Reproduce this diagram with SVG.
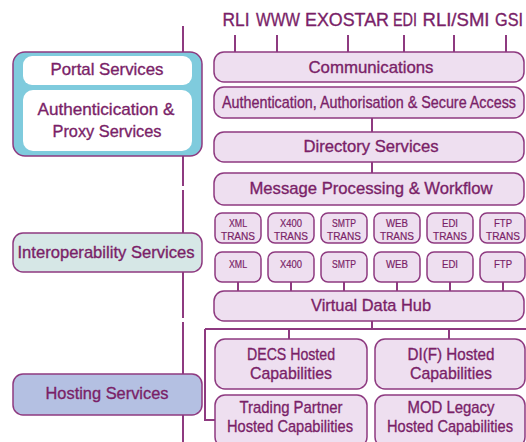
<svg xmlns="http://www.w3.org/2000/svg" width="526" height="442" viewBox="0 0 526 442">
<style>
text{font-family:"Liberation Sans",Arial,sans-serif;fill:#7a1f68;stroke:#7a1f68;stroke-width:0.35;text-anchor:middle}
.b{fill:#eedff0;stroke:#8e3a80;stroke-width:1.5}
.l{stroke:#8e3a80;stroke-width:2;fill:none}
.t{font-size:18px}
.m{font-size:17px}
.s{font-size:10.5px;stroke-width:0.2}
</style>
<rect width="526" height="442" fill="#ffffff"/>
<g id="connectors">
<path class="l" d="M183 26V186M183 190V318M183 322V442"/>
<path class="l" d="M235 35V52M277 35V52M348 35V52M404 35V52M454 35V52M506 35V52"/>
<path class="l" d="M372 118V132M372 162V173"/>
<path class="l" d="M238 282V291M291 282V291M344 282V291M397 282V291M450 282V291M503 282V291"/>
<path class="l" d="M372 321V329M205 329H526M289 329V339M449 329V339M205 329V420H215"/>
</g>
<g id="labels">
<text class="t" x="236" y="26" textLength="27" lengthAdjust="spacingAndGlyphs">RLI</text>
<text class="t" x="278" y="26" textLength="44" lengthAdjust="spacingAndGlyphs">WWW</text>
<text class="t" x="347" y="26" textLength="84" lengthAdjust="spacingAndGlyphs">EXOSTAR</text>
<text class="t" x="405" y="26" textLength="24" lengthAdjust="spacingAndGlyphs">EDI</text>
<text class="t" x="456" y="26" textLength="67" lengthAdjust="spacingAndGlyphs">RLI/SMI</text>
<text class="t" x="509" y="26" textLength="28" lengthAdjust="spacingAndGlyphs">GSI</text>
</g>
<g id="portal">
<rect x="13" y="52" width="189" height="104" rx="12" fill="#7fcbdd" stroke="#8e3a80" stroke-width="1.5"/>
<rect x="23" y="56" width="169" height="29" rx="9" fill="#ffffff"/>
<rect x="23" y="90" width="169" height="61" rx="10" fill="#ffffff"/>
<text class="m" x="107" y="75" textLength="113" lengthAdjust="spacingAndGlyphs">Portal Services</text>
<text class="m" x="106" y="115" textLength="137" lengthAdjust="spacingAndGlyphs">Authenticication &amp;</text>
<text class="m" x="107" y="137" textLength="109" lengthAdjust="spacingAndGlyphs">Proxy Services</text>
</g>
<g id="interop">
<rect x="13" y="233" width="189" height="39" rx="10" fill="#d6e7e6" stroke="#8e3a80" stroke-width="1.5"/>
<text class="m" x="106" y="258" textLength="177" lengthAdjust="spacingAndGlyphs">Interoperability Services</text>
</g>
<g id="hosting">
<rect x="13" y="374" width="189" height="41" rx="10" fill="#b4c0e2" stroke="#8e3a80" stroke-width="1.5"/>
<text class="m" x="107" y="399" textLength="123" lengthAdjust="spacingAndGlyphs">Hosting Services</text>
</g>
<g id="communications">
<rect class="b" x="214" y="52" width="310" height="30" rx="10"/>
<text class="m" x="371" y="73" textLength="125" lengthAdjust="spacingAndGlyphs">Communications</text>
</g>
<g id="auth">
<rect class="b" x="214" y="87" width="310" height="31" rx="10"/>
<text class="m" x="369" y="108" font-size="16" textLength="294" lengthAdjust="spacingAndGlyphs">Authentication, Authorisation &amp; Secure Access</text>
</g>
<g id="directory">
<rect class="b" x="214" y="132" width="310" height="30" rx="10"/>
<text class="m" x="371" y="152" textLength="135" lengthAdjust="spacingAndGlyphs">Directory Services</text>
</g>
<g id="message">
<rect class="b" x="214" y="173" width="310" height="32" rx="10"/>
<text class="m" x="371" y="194" textLength="243" lengthAdjust="spacingAndGlyphs">Message Processing &amp; Workflow</text>
</g>
<g id="trans">
<rect class="b" x="215" y="213" width="46" height="30" rx="7"/>
<rect class="b" x="268" y="213" width="46" height="30" rx="7"/>
<rect class="b" x="321" y="213" width="46" height="30" rx="7"/>
<rect class="b" x="374" y="213" width="46" height="30" rx="7"/>
<rect class="b" x="427" y="213" width="46" height="30" rx="7"/>
<rect class="b" x="480" y="213" width="45" height="30" rx="7"/>
<text class="s" x="238" y="227" textLength="18" lengthAdjust="spacingAndGlyphs">XML</text>
<text class="s" x="291" y="227" textLength="22" lengthAdjust="spacingAndGlyphs">X400</text>
<text class="s" x="344" y="227" textLength="24" lengthAdjust="spacingAndGlyphs">SMTP</text>
<text class="s" x="397" y="227" textLength="22" lengthAdjust="spacingAndGlyphs">WEB</text>
<text class="s" x="450" y="227" textLength="16" lengthAdjust="spacingAndGlyphs">EDI</text>
<text class="s" x="503" y="227" textLength="18" lengthAdjust="spacingAndGlyphs">FTP</text>
<text class="s" x="238" y="240" textLength="34" lengthAdjust="spacingAndGlyphs">TRANS</text>
<text class="s" x="291" y="240" textLength="34" lengthAdjust="spacingAndGlyphs">TRANS</text>
<text class="s" x="344" y="240" textLength="34" lengthAdjust="spacingAndGlyphs">TRANS</text>
<text class="s" x="397" y="240" textLength="34" lengthAdjust="spacingAndGlyphs">TRANS</text>
<text class="s" x="450" y="240" textLength="34" lengthAdjust="spacingAndGlyphs">TRANS</text>
<text class="s" x="503" y="240" textLength="34" lengthAdjust="spacingAndGlyphs">TRANS</text>
</g>
<g id="protocols">
<rect class="b" x="215" y="252" width="46" height="30" rx="7"/>
<rect class="b" x="268" y="252" width="46" height="30" rx="7"/>
<rect class="b" x="321" y="252" width="46" height="30" rx="7"/>
<rect class="b" x="374" y="252" width="46" height="30" rx="7"/>
<rect class="b" x="427" y="252" width="46" height="30" rx="7"/>
<rect class="b" x="480" y="252" width="45" height="30" rx="7"/>
<text class="s" x="238" y="268" textLength="18" lengthAdjust="spacingAndGlyphs">XML</text>
<text class="s" x="291" y="268" textLength="22" lengthAdjust="spacingAndGlyphs">X400</text>
<text class="s" x="344" y="268" textLength="24" lengthAdjust="spacingAndGlyphs">SMTP</text>
<text class="s" x="397" y="268" textLength="22" lengthAdjust="spacingAndGlyphs">WEB</text>
<text class="s" x="450" y="268" textLength="16" lengthAdjust="spacingAndGlyphs">EDI</text>
<text class="s" x="503" y="268" textLength="18" lengthAdjust="spacingAndGlyphs">FTP</text>
</g>
<g id="hub">
<rect class="b" x="214" y="291" width="310" height="30" rx="10"/>
<text class="m" x="371" y="311" textLength="120" lengthAdjust="spacingAndGlyphs">Virtual Data Hub</text>
</g>
<g id="decs">
<rect class="b" x="215" y="339" width="152" height="50" rx="10"/>
<text class="m" x="291" y="360" textLength="88" lengthAdjust="spacingAndGlyphs">DECS Hosted</text>
<text class="m" x="291" y="379" textLength="82" lengthAdjust="spacingAndGlyphs">Capabilities</text>
</g>
<g id="dif">
<rect class="b" x="375" y="339" width="150" height="50" rx="10"/>
<text class="m" x="451" y="360" textLength="87" lengthAdjust="spacingAndGlyphs">DI(F) Hosted</text>
<text class="m" x="451" y="379" textLength="82" lengthAdjust="spacingAndGlyphs">Capabilities</text>
</g>
<g id="trading">
<rect class="b" x="215" y="395" width="152" height="52" rx="10"/>
<text class="m" x="291" y="413" textLength="103" lengthAdjust="spacingAndGlyphs">Trading Partner</text>
<text class="m" x="290" y="432" textLength="126" lengthAdjust="spacingAndGlyphs">Hosted Capabilities</text>
</g>
<g id="mod">
<rect class="b" x="375" y="395" width="150" height="52" rx="10"/>
<text class="m" x="451" y="413" textLength="87" lengthAdjust="spacingAndGlyphs">MOD Legacy</text>
<text class="m" x="450" y="432" textLength="126" lengthAdjust="spacingAndGlyphs">Hosted Capabilities</text>
</g>
</svg>
